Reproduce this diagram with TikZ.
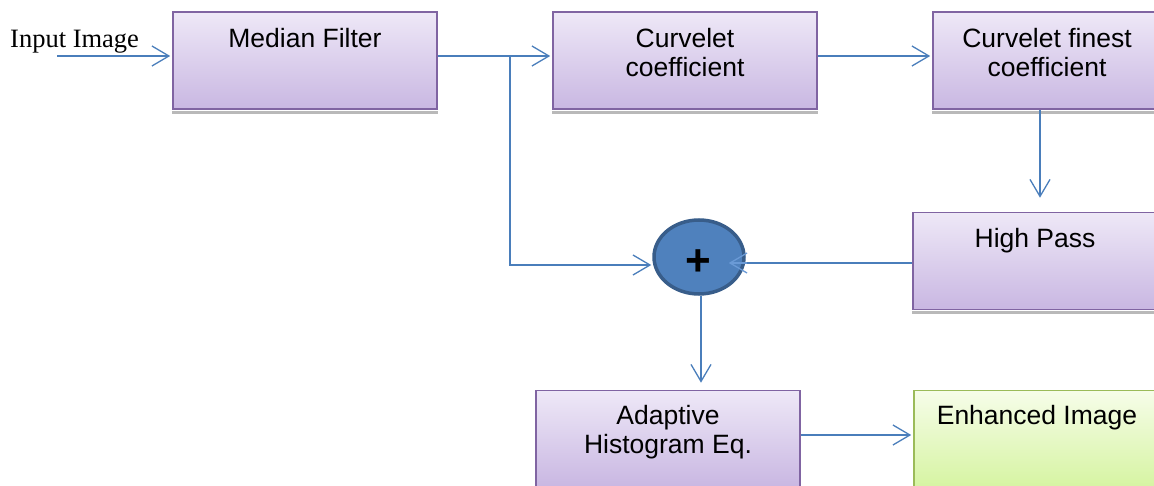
\documentclass[tikz,border=0pt]{standalone}
\usepackage{fontspec}
\setmainfont{Liberation Sans}
\newfontfamily\timesf{Liberation Serif}
\usetikzlibrary{arrows.meta,shapes.geometric}
\definecolor{arrowblue}{HTML}{4A7EBB}
\definecolor{tipblue}{HTML}{6A9AD6}
\definecolor{boxborder}{HTML}{8064A2}
\definecolor{boxtop}{HTML}{EEE8F7}
\definecolor{boxbot}{HTML}{C9B7E2}
\definecolor{grnborder}{HTML}{9BBB59}
\definecolor{grntop}{HTML}{F6FDE9}
\definecolor{grnbot}{HTML}{D6F4A2}
\definecolor{sumfill}{HTML}{4F81BD}
\definecolor{sumborder}{HTML}{385D8A}
\begin{document}
\begin{tikzpicture}[x=1pt,y=-1pt,
  procbox/.style={draw=boxborder, line width=1.6pt, top color=boxtop, bottom color=boxbot, inner sep=0pt, minimum width=264pt, minimum height=97pt},
  grnbox/.style={draw=grnborder, line width=1.6pt, top color=grntop, bottom color=grnbot, inner sep=0pt, minimum width=264pt, minimum height=97pt},
  boxtext/.style={font=\fontsize{26.5}{29}\selectfont, align=center, anchor=north, inner sep=0pt},
  shadowstrip/.style={fill=gray!55},
  arr/.style={draw=arrowblue, line width=1.3pt, -{Straight Barb[length=17pt,width=20pt,line width=1.3pt]}},
  conn/.style={draw=arrowblue, line width=1.3pt}]
\useasboundingbox (0,0) rectangle (1154,486);
\clip (0,0) rectangle (1154,486);
% boxes
\node[procbox] (mf) at (305,60.5) {};
\node[procbox] (cc) at (685,60.5) {};
\node[procbox, minimum width=230pt] (cf) at (1048,60.5) {};
\node[procbox, minimum width=250pt] (hp) at (1038,261) {};
\node[procbox] (ad) at (668,439) {};
\node[grnbox, minimum width=250pt] (en) at (1039,439) {};
% shadows
\fill[shadowstrip] ([yshift=-1pt]mf.south west) rectangle ([yshift=-4pt]mf.south east);
\fill[shadowstrip] ([yshift=-1pt]cc.south west) rectangle ([yshift=-4pt]cc.south east);
\fill[shadowstrip] ([yshift=-1pt]cf.south west) rectangle ([yshift=-4pt]cf.south east);
\fill[shadowstrip] ([yshift=-1pt]hp.south west) rectangle ([yshift=-4pt]hp.south east);
% texts
\node[boxtext] (mft) at (305,28) {Median Filter};
\node[boxtext] (cct) at (685,28) {Curvelet\\coefficient};
\node[boxtext] (cft) at (1047,28) {Curvelet finest\\coefficient};
\node[boxtext] (hpt) at (1035,228) {High Pass};
\node[boxtext] (adt) at (668,405) {Adaptive\\Histogram Eq.};
\node[boxtext] (ent) at (1037,405) {Enhanced Image};
\node[anchor=base west, inner sep=0pt, font=\timesf\fontsize{26.5}{29}\selectfont] (inp) at (10,48) {Input Image};
% summing node
\node[ellipse, draw=sumborder, line width=3.5pt, fill=sumfill, minimum width=90pt, minimum height=74pt, inner sep=0pt] (sum) at (699,257) {};
\node[inner sep=0pt, font=\bfseries\fontsize{44}{44}\selectfont] (plus) at (698,263) {+};
% connectors
\coordinate (in) at (57,56);
\coordinate (br) at (510,56);
\coordinate (fx) at (1040,0);
\coordinate (hy) at (0,263);
\draw[arr, shorten >=2pt] (in) -- (in -| mf.west);
\draw[arr, shorten >=2pt] (in -| mf.east) -- (in -| cc.west);
\draw[arr, shorten >=2pt] (in -| cc.east) -- (in -| cf.west);
\draw[arr] (br) |- ([yshift=-8pt, xshift=-1pt]sum.west);
\draw[arr, shorten >=14pt] (fx |- cf.south) -- (fx |- hp.north);
\draw[conn] (hy -| hp.west) -- (hy -| sum.east);
\draw[arr, draw=tipblue, shorten >=-17pt] ([xshift=1pt]hy -| sum.east) -- (hy -| sum.east);
\draw[arr, shorten >=7pt] ([xshift=2pt]sum.south) -- ([xshift=2pt]sum.south |- ad.north);
\draw[arr, shorten >=2pt] ([yshift=4pt]ad.east) -- ([yshift=4pt]ad.east -| en.west);
\end{tikzpicture}
\end{document}
